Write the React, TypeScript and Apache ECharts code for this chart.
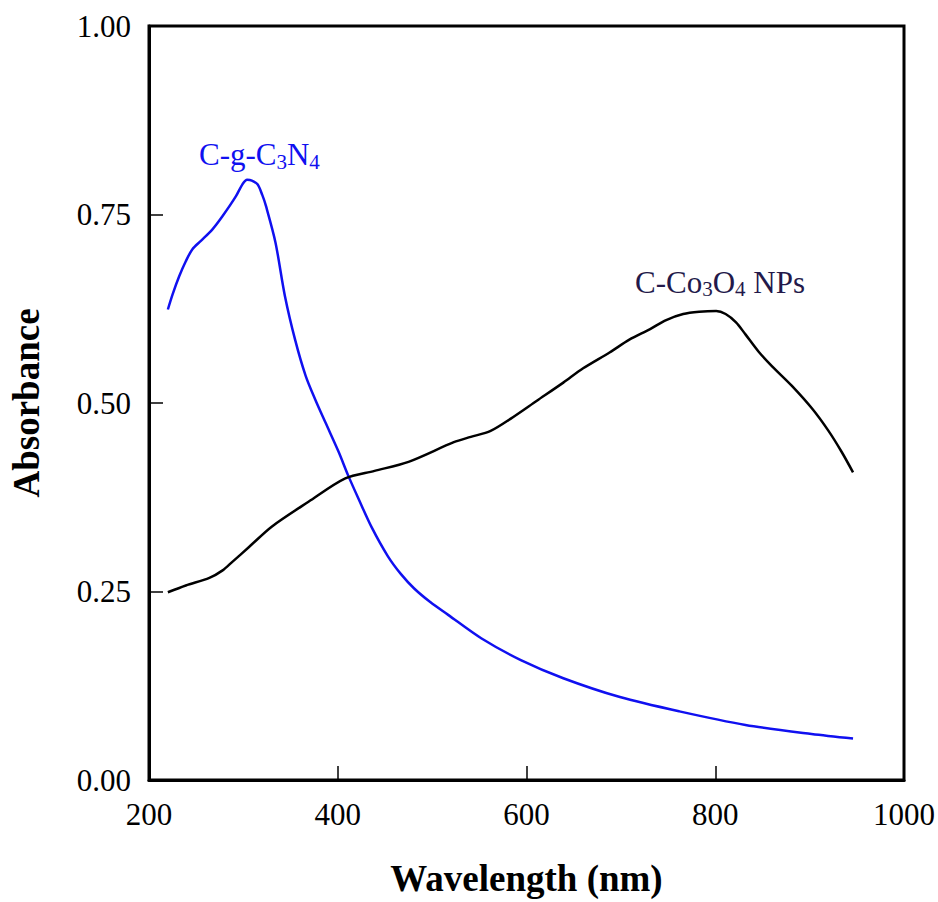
import React, { useEffect, useRef } from "react";
import * as echarts from "echarts";

const gcnWavelength = [220, 225, 232, 239, 246, 255, 267, 278, 292, 299, 304, 309, 315, 320, 324, 334, 344, 355, 366, 376, 387, 401, 411, 422, 436, 453, 467, 481, 498, 517, 552, 594, 639, 699, 762, 832, 902, 946];
const gcnAbsorbance = [0.624, 0.644, 0.668, 0.688, 0.704, 0.715, 0.730, 0.748, 0.774, 0.790, 0.796, 0.795, 0.790, 0.776, 0.761, 0.713, 0.642, 0.583, 0.536, 0.505, 0.474, 0.435, 0.404, 0.373, 0.335, 0.297, 0.273, 0.254, 0.236, 0.219, 0.188, 0.159, 0.135, 0.110, 0.091, 0.073, 0.061, 0.055];

const coWavelength = [220, 239, 264, 278, 288, 306, 330, 369, 408, 439, 475, 523, 541, 562, 583, 611, 639, 660, 688, 709, 731, 748, 766, 783, 801, 811, 822, 832, 846, 860, 881, 903, 920, 934, 946];
const coAbsorbance = [0.249, 0.258, 0.268, 0.278, 0.289, 0.309, 0.336, 0.369, 0.400, 0.410, 0.422, 0.448, 0.455, 0.463, 0.479, 0.503, 0.527, 0.546, 0.567, 0.584, 0.598, 0.610, 0.618, 0.621, 0.622, 0.618, 0.607, 0.591, 0.568, 0.549, 0.523, 0.492, 0.463, 0.435, 0.408];

const labelGcn = [317, 0.829];
const labelCo = [805, 0.66];

const xTicks = [200, 400, 600, 800, 1000];
const yTicks = [0, 0.25, 0.5, 0.75, 1.0];

const FONT = "'Liberation Serif', 'Times New Roman', serif";
const BLUE = "#1010f0";
const NAVY = "#23194a";

export default function App() {
  const ref = useRef<HTMLDivElement>(null);
  useEffect(() => {
    if (!ref.current) return;
    const chart = echarts.init(ref.current, undefined, { renderer: "svg" });
    const sub = { fontSize: 21, fontFamily: FONT, padding: [14, 0, 0, 0], textBorderWidth: 0 };
    const main = { fontSize: 31, fontFamily: FONT, textBorderWidth: 0 };
    chart.setOption({
      animation: false,
      backgroundColor: "#ffffff",
      grid: { left: 146, right: 32, top: 26, bottom: 120, show: true, borderColor: "#000", borderWidth: 3, backgroundColor: "transparent" },
      xAxis: {
        type: "value",
        min: xTicks[0],
        max: xTicks[xTicks.length - 1],
        interval: 200,
        name: "Wavelength (nm)",
        nameLocation: "middle",
        nameGap: 80,
        nameTextStyle: { fontFamily: FONT, fontWeight: "bold", fontSize: 37, color: "#000" },
        axisLine: { lineStyle: { color: "#000", width: 3 } },
        axisTick: { inside: true, length: 14, lineStyle: { color: "#000", width: 1.5 } },
        axisLabel: { fontFamily: FONT, fontSize: 31, color: "#000", margin: 19, formatter: (v: number) => String(v) },
        splitLine: { show: false },
      },
      yAxis: {
        type: "value",
        min: yTicks[0],
        max: yTicks[yTicks.length - 1],
        interval: 0.25,
        name: "Absorbance",
        nameLocation: "middle",
        nameGap: 104,
        nameTextStyle: { fontFamily: FONT, fontWeight: "bold", fontSize: 37, color: "#000" },
        axisLine: { lineStyle: { color: "#000", width: 3 } },
        axisTick: { inside: true, length: 14, lineStyle: { color: "#000", width: 1.5 } },
        axisLabel: { fontFamily: FONT, fontSize: 31, color: "#000", margin: 18, formatter: (v: number) => v.toFixed(2) },
        splitLine: { show: false },
      },
      series: [
        {
          type: "line",
          name: "C-g-C3N4",
          data: gcnWavelength.map((x, i) => [x, gcnAbsorbance[i]]),
          smooth: 0.3,
          showSymbol: false,
          lineStyle: { color: BLUE, width: 2.5 },
        },
        {
          type: "line",
          name: "C-Co3O4 NPs",
          data: coWavelength.map((x, i) => [x, coAbsorbance[i]]),
          smooth: 0.3,
          showSymbol: false,
          lineStyle: { color: "#000", width: 2.5 },
        },
        {
          type: "scatter",
          symbolSize: 1,
          itemStyle: { color: "rgba(255,255,255,0)", opacity: 1 },
          silent: true,
          data: [
            {
              value: labelGcn,
              label: {
                show: true,
                position: "inside",
                opacity: 1,
                textBorderWidth: 0,
                formatter: "{a|C-g-C}{s|3}{a|N}{s|4}",
                rich: { a: { ...main, color: BLUE }, s: { ...sub, color: BLUE } },
              },
            },
            {
              value: labelCo,
              label: {
                show: true,
                position: "inside",
                opacity: 1,
                textBorderWidth: 0,
                formatter: "{a|C-Co}{s|3}{a|O}{s|4}{a| NPs}",
                rich: { a: { ...main, color: NAVY }, s: { ...sub, color: NAVY } },
              },
            },
          ],
        },
      ],
    });
    return () => chart.dispose();
  }, []);
  return <div ref={ref} style={{ width: 938, height: 902, position: "absolute", left: 0, top: 0 }} />;
}
